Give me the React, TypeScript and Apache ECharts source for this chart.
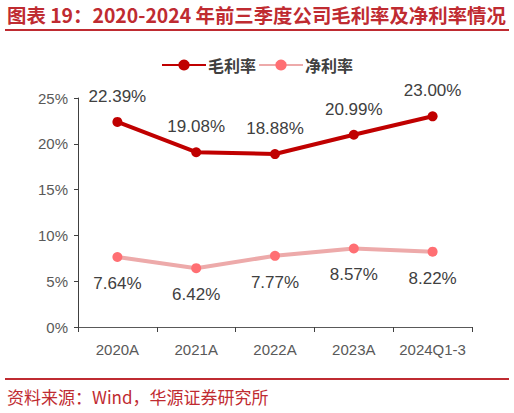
import React, { useEffect, useRef } from 'react';
import * as echarts from 'echarts';

const categories = ['2020A', '2021A', '2022A', '2023A', '2024Q1-3'];
const grossMargin = [22.39, 19.08, 18.88, 20.99, 23.0];
const netMargin = [7.64, 6.42, 7.77, 8.57, 8.22];
const yTicks = { min: 0, max: 25, interval: 5 };

const TITLE = '图表 19：2020-2024 年前三季度公司毛利率及净利率情况';
const SOURCE = '资料来源：Wind，华源证券研究所';
const RED = '#BF2B31';

const App: React.FC = () => {
  const chartRef = useRef<HTMLDivElement>(null);

  useEffect(() => {
    document.body.style.margin = '0';
    if (!chartRef.current) return;
    const chart = echarts.init(chartRef.current, undefined, { renderer: 'svg' });

    const pct = (p: any) => `${Number(p.value).toFixed(2)}%`;

    const option: echarts.EChartsOption = {
      animation: false,
      backgroundColor: '#fff',
      textStyle: { fontFamily: 'Liberation Sans, Arial, sans-serif' },
      graphic: [
        {
          type: 'text',
          left: 7,
          top: 5,
          style: {
            text: TITLE,
            fill: RED,
            font: 'bold 19.4px "Noto Sans CJK SC", sans-serif'
          }
        },
        {
          type: 'line',
          shape: { x1: 5, y1: 30, x2: 509, y2: 30 },
          style: { stroke: RED, lineWidth: 2 }
        },
        {
          type: 'line',
          shape: { x1: 5, y1: 379, x2: 509, y2: 379 },
          style: { stroke: RED, lineWidth: 2 }
        },
        {
          type: 'text',
          left: 7,
          top: 388,
          style: {
            text: SOURCE,
            fill: RED,
            font: '17px "Noto Sans CJK SC", sans-serif'
          }
        }
      ],
      legend: {
        top: 52,
        left: 'center',
        itemWidth: 44,
        itemHeight: 14,
        itemGap: 2,
        textStyle: {
          fontSize: 16,
          fontWeight: 'bold',
          color: '#404040',
          fontFamily: '"Noto Sans CJK SC", sans-serif',
          padding: [0, 0, 0, -3]
        },
        data: ['毛利率', '净利率']
      },
      grid: { left: 78, right: 42, top: 98, bottom: 86 },
      xAxis: {
        type: 'category',
        data: categories,
        boundaryGap: true,
        axisLine: { lineStyle: { color: '#595959', width: 1 } },
        axisTick: { show: true, interval: 0, length: 5, lineStyle: { color: '#404040' } },
        axisLabel: { color: '#595959', fontSize: 15, margin: 15, interval: 0 }
      },
      yAxis: {
        type: 'value',
        min: yTicks.min,
        max: yTicks.max,
        interval: yTicks.interval,
        axisLine: { show: true, lineStyle: { color: '#404040', width: 1 } },
        axisTick: { show: true, length: 4, lineStyle: { color: '#404040' } },
        splitLine: { show: false },
        axisLabel: { color: '#595959', fontSize: 15, margin: 10, formatter: '{value}%' }
      },
      series: [
        {
          name: '毛利率',
          type: 'line',
          data: grossMargin,
          symbol: 'circle',
          symbolSize: 10,
          lineStyle: { color: '#C00000', width: 4 },
          itemStyle: { color: '#C00000' },
          label: {
            show: true,
            position: 'top',
            distance: 12,
            fontSize: 17,
            color: '#404040',
            formatter: pct
          }
        },
        {
          name: '净利率',
          type: 'line',
          data: netMargin,
          symbol: 'circle',
          symbolSize: 10,
          lineStyle: { color: '#EDAAAA', width: 4 },
          itemStyle: { color: '#FF6F73' },
          label: {
            show: true,
            position: 'bottom',
            distance: 13,
            fontSize: 17,
            color: '#404040',
            formatter: pct
          }
        }
      ]
    };

    chart.setOption(option);
    return () => chart.dispose();
  }, []);

  return <div ref={chartRef} style={{ width: 514, height: 413 }} />;
};

export default App;
